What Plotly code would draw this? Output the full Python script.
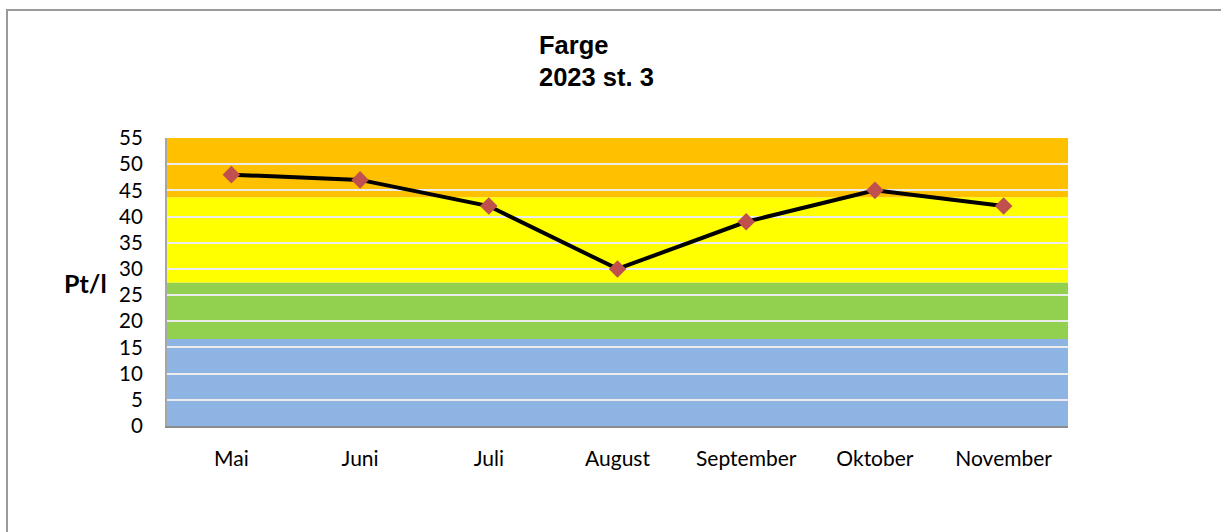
import plotly.graph_objects as go

months = ["Mai", "Juni", "Juli", "August", "September", "Oktober", "November"]
values = [48, 47, 42, 30, 39, 45, 42]

band_lower = [0, 16.6, 27.4, 43.7]
band_upper = [16.6, 27.4, 43.7, 55]
band_colors = ["#8DB4E2", "#92D050", "#FFFF00", "#FFC000"]

y_ticks = list(range(0, 56, 5))

W, H = 1221, 532
L, R, T, B = 167, 153, 138, 106
pw, ph = W - L - R, H - T - B

def px_x(px):
    return (px - L) / pw

def px_y(py):
    return (H - B - py) / ph

fig = go.Figure()
fig.add_trace(go.Scatter(
    x=months, y=values, mode="lines+markers",
    line=dict(color="black", width=4),
    marker=dict(symbol="diamond", size=13.5, color="#C0504D",
                line=dict(width=0)),
    showlegend=False, hoverinfo="x+y",
))

shapes = []
for lo, hi, c in zip(band_lower, band_upper, band_colors):
    shapes.append(dict(type="rect", xref="paper", yref="y", x0=0, x1=1,
                       y0=lo, y1=hi, fillcolor=c, line=dict(width=0),
                       layer="below"))
# outer chart border
shapes.append(dict(type="rect", xref="paper", yref="paper",
                   x0=px_x(7), x1=px_x(1240), y0=px_y(550), y1=px_y(10),
                   line=dict(color="#9a9a9a", width=2), fillcolor="rgba(0,0,0,0)"))

title_font = dict(family="Liberation Sans, Arial", size=25.5, color="black")

fig.update_layout(
    width=W, height=H,
    margin=dict(l=L, r=R, t=T, b=B),
    paper_bgcolor="white", plot_bgcolor="white",
    shapes=shapes,
    showlegend=False,
    annotations=[
        dict(text="<b>Farge</b>", xref="paper", yref="paper",
             x=px_x(537), y=px_y(45), xanchor="left", yanchor="middle",
             showarrow=False, font=title_font),
        dict(text="<b>2023 st. 3</b>", xref="paper", yref="paper",
             x=px_x(537), y=px_y(77), xanchor="left", yanchor="middle",
             showarrow=False, font=title_font),
        dict(text="<b>Pt/l</b>", xref="paper", yref="paper",
             x=px_x(109), y=px_y(283), xanchor="right", yanchor="middle",
             showarrow=False,
             font=dict(family="Lato, Open Sans", size=25, color="black")),
    ],
)

fig.update_xaxes(
    type="category", range=[-0.5, 6.5],
    showgrid=False, showline=True, linecolor="#8c8c8c", linewidth=2,
    ticks="", ticklabelstandoff=13,
    tickfont=dict(family="Lato, Open Sans", size=21, color="black"),
    fixedrange=True,
)
fig.update_yaxes(
    range=[0, 55], tickvals=y_ticks, ticktext=[str(v) for v in y_ticks],
    showgrid=True, gridcolor="#ececec", gridwidth=1.5,
    showline=True, linecolor="#a6a6a6", linewidth=2, mirror=False,
    zeroline=False, ticks="", ticklabelstandoff=18,
    tickfont=dict(family="Lato, Open Sans", size=20.5, color="black"),
    fixedrange=True,
)

fig.write_html("out.html", config={"displayModeBar": False},
               post_script="document.body.style.margin='0';document.body.style.overflow='hidden';")
